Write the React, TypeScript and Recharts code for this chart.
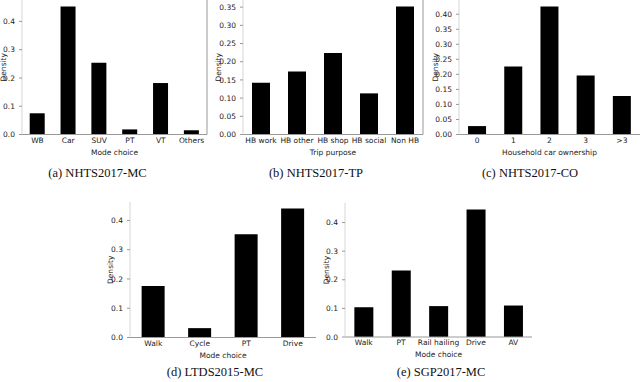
import React from "react";
import { BarChart, Bar, XAxis, YAxis } from "recharts";

const mcCategories = ["WB", "Car", "SUV", "PT", "VT", "Others"];
const mcDensity = [0.075, 0.453, 0.254, 0.018, 0.182, 0.015];

const tpCategories = ["HB work", "HB other", "HB shop", "HB social", "Non HB"];
const tpDensity = [0.142, 0.173, 0.224, 0.113, 0.352];

const coCategories = ["0", "1", "2", "3", ">3"];
const coDensity = [0.028, 0.226, 0.426, 0.196, 0.128];

const ltdsCategories = ["Walk", "Cycle", "PT", "Drive"];
const ltdsDensity = [0.176, 0.032, 0.353, 0.441];

const sgpCategories = ["Walk", "PT", "Rail hailing", "Drive", "AV"];
const sgpDensity = [0.104, 0.232, 0.108, 0.446, 0.11];

const ticksTenths = [0, 0.1, 0.2, 0.3, 0.4];
const ticksTo035 = [0, 0.05, 0.1, 0.15, 0.2, 0.25, 0.3, 0.35];
const ticksTo040 = [0, 0.05, 0.1, 0.15, 0.2, 0.25, 0.3, 0.35, 0.4];

const FONT = "DejaVu Sans";
const TXT = "#222";
const YW = 40;
const XH = 22;
const MT = 4;

type PanelProps = {
  categories: string[];
  values: number[];
  ticks: number[];
  digits: number;
  xLabel: string;
  title: string;
  x0: number;
  x1: number;
  y0: number;
  y1: number;
  rightSpine: boolean;
  densityGap: number;
  titleX: number;
  titleY: number;
};

function densityLabel(gap: number) {
  return (props: any) => {
    const vb = props.viewBox;
    const cx = vb.x + YW - gap;
    const cy = vb.y + vb.height / 2;
    return (
      <text
        x={cx}
        y={cy}
        transform={`rotate(-90 ${cx} ${cy})`}
        textAnchor="middle"
        dominantBaseline="central"
        fontSize={7.5}
        fontFamily={FONT}
        fill={TXT}
      >
        Density
      </text>
    );
  };
}

function Panel(p: PanelProps) {
  const data = p.categories.map((c, i) => ({ name: c, density: p.values[i] }));
  const rw = p.rightSpine ? 1 : 0;
  const width = p.x1 - p.x0 + YW + rw;
  const height = p.y1 - p.y0 + MT + XH;
  return (
    <>
      <div style={{ position: "absolute", left: p.x0 - YW, top: p.y0 - MT }}>
        <BarChart
          width={width}
          height={height}
          data={data}
          margin={{ top: MT, right: 0, bottom: 0, left: 0 }}
          barCategoryGap="25%"
        >
          <XAxis
            dataKey="name"
            height={XH}
            interval={0}
            tickLine={false}
            tickSize={3}
            tickMargin={0}
            axisLine={{ stroke: "#999" }}
            tick={{ fontSize: 7.5, fontFamily: FONT, fill: TXT }}
            label={{
              value: p.xLabel,
              position: "insideBottom",
              offset: 2,
              fontSize: 7.5,
              fontFamily: FONT,
              fill: TXT,
            }}
          />
          <YAxis
            width={YW}
            domain={[0, (m: number) => m * 1.05]}
            ticks={p.ticks}
            tickFormatter={(v: number) => v.toFixed(p.digits)}
            tickSize={3}
            tickMargin={4}
            tickLine={{ stroke: "#999" }}
            axisLine={{ stroke: "#d6d6d6" }}
            tick={{ fontSize: 7.5, fontFamily: FONT, fill: TXT }}
            label={{ content: densityLabel(p.densityGap) }}
          />
          {p.rightSpine && (
            <YAxis
              yAxisId="right"
              orientation="right"
              width={1}
              tick={false}
              tickLine={false}
              axisLine={{ stroke: "#999" }}
            />
          )}
          <Bar dataKey="density" fill="#000" isAnimationActive={false} />
        </BarChart>
      </div>
      <div
        style={{
          position: "absolute",
          left: p.titleX - 100,
          top: p.titleY - 8,
          width: 200,
          textAlign: "center",
          fontFamily: "Liberation Serif",
          fontSize: 12.5,
          lineHeight: "16px",
          color: "#111",
        }}
      >
        {p.title}
      </div>
    </>
  );
}

export default function App() {
  return (
    <div
      style={{
        position: "absolute",
        left: 0,
        top: 0,
        width: 640,
        height: 382,
        overflow: "hidden",
        background: "#fff",
      }}
    >
      <Panel
        categories={mcCategories}
        values={mcDensity}
        ticks={ticksTenths}
        digits={1}
        xLabel="Mode choice"
        title="(a) NHTS2017-MC"
        x0={21.5}
        x1={206.5}
        y0={0}
        y1={134.5}
        rightSpine
        densityGap={18.5}
        titleX={97.5}
        titleY={172.5}
      />
      <Panel
        categories={tpCategories}
        values={tpDensity}
        ticks={ticksTo035}
        digits={2}
        xLabel="Trip purpose"
        title="(b) NHTS2017-TP"
        x0={242.5}
        x1={422.5}
        y0={0}
        y1={134.5}
        rightSpine
        densityGap={24.5}
        titleX={316}
        titleY={172.5}
      />
      <Panel
        categories={coCategories}
        values={coDensity}
        ticks={ticksTo040}
        digits={2}
        xLabel="Household car ownership"
        title="(c) NHTS2017-CO"
        x0={459}
        x1={640}
        y0={0}
        y1={134.5}
        rightSpine={false}
        densityGap={24}
        titleX={530}
        titleY={172.5}
      />
      <Panel
        categories={ltdsCategories}
        values={ltdsDensity}
        ticks={ticksTenths}
        digits={1}
        xLabel="Mode choice"
        title="(d) LTDS2015-MC"
        x0={130}
        x1={316}
        y0={201.5}
        y1={337}
        rightSpine={false}
        densityGap={20}
        titleX={215}
        titleY={372}
      />
      <Panel
        categories={sgpCategories}
        values={sgpDensity}
        ticks={ticksTenths}
        digits={1}
        xLabel="Mode choice"
        title="(e) SGP2017-MC"
        x0={345}
        x1={532}
        y0={203}
        y1={337}
        rightSpine={false}
        densityGap={19}
        titleX={441}
        titleY={372}
      />
    </div>
  );
}
